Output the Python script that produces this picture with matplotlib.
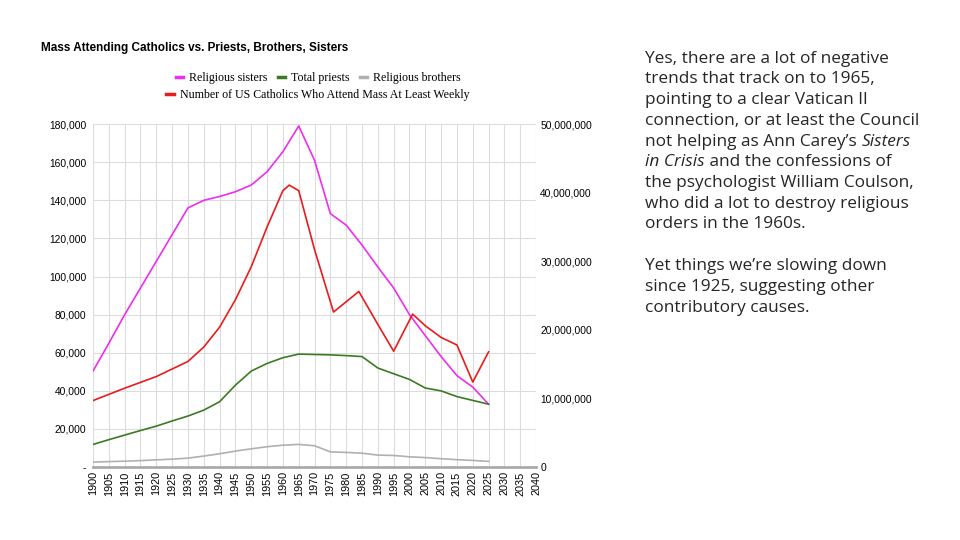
import matplotlib.pyplot as plt
from matplotlib.ticker import FuncFormatter

# values
years = list(range(1900, 2030, 5))
sisters = [50400, 65000, 80000, 94000, 108000, 122000, 136000, 140000, 142000, 144500,
           148000, 155000, 165500, 179000, 161000, 133000, 127000, 116500, 105000, 94000,
           80000, 69000, 58000, 48000, 42000, 33000]
priests = [11900, 14400, 16800, 19200, 21500, 24200, 26800, 29900, 34300, 43000,
           50400, 54400, 57400, 59300, 59100, 58900, 58500, 58000, 52000, 49000,
           46000, 41500, 40000, 37000, 35000, 33000]
brothers = [2600, 2900, 3100, 3400, 3800, 4200, 4700, 5800, 7000, 8400,
            9600, 10700, 11500, 11900, 11200, 8000, 7700, 7300, 6300, 6100,
            5400, 5000, 4400, 3900, 3500, 3000]

mass_years = [1900, 1910, 1920, 1930, 1935, 1940, 1945, 1950, 1955, 1960, 1962, 1965,
              1970, 1976, 1980, 1984, 1990, 1995, 2001, 2005, 2010, 2015, 2020, 2025]
mass_weekly = [9.7e6, 11.5e6, 13.2e6, 15.4e6, 17.5e6, 20.4e6, 24.4e6, 29.2e6, 35.0e6,
               40.3e6, 41.1e6, 40.3e6, 31.7e6, 22.6e6, 24.1e6, 25.6e6, 20.8e6, 16.9e6,
               22.3e6, 20.6e6, 18.9e6, 17.8e6, 12.4e6, 16.8e6]

labels = ['Religious sisters', 'Total priests', 'Religious brothers',
          'Number of US Catholics Who Attend Mass At Least Weekly']
colors = ['#ee2eee', '#3b7a23', '#b0b0b0', '#e81c1c']

fig = plt.figure(figsize=(9.6, 5.4), dpi=100)
ax = fig.add_axes([0.0969, 0.135, 0.4615, 0.6352])
ax2 = ax.twinx()

l1, = ax.plot(years, sisters, color=colors[0], lw=1.2)
l2, = ax.plot(years, priests, color=colors[1], lw=1.2)
l3, = ax.plot(years, brothers, color=colors[2], lw=1.2)
l4, = ax2.plot(mass_years, mass_weekly, color=colors[3], lw=1.2)

ax.set_xlim(1900, 2040)
ax.set_ylim(0, 180000)
ax2.set_ylim(0, 50000000)
ax.set_xticks(range(1900, 2045, 5))
ax.set_yticks(range(0, 200000, 20000))
ax2.set_yticks(range(0, 60000000, 10000000))
ax.yaxis.set_major_formatter(FuncFormatter(lambda v, p: '-' if v == 0 else f'{int(v):,}'))
ax2.yaxis.set_major_formatter(FuncFormatter(lambda v, p: f'{int(v):,}'))

ax.grid(True, color='#dcdcdc', lw=0.8)
ax.set_axisbelow(True)
for a in (ax, ax2):
    for s in a.spines.values():
        s.set_visible(False)
    a.tick_params(length=0, labelsize=7.4)
ax.spines['bottom'].set_visible(True)
ax.spines['bottom'].set_color('#aaaaaa')
ax.spines['bottom'].set_linewidth(2)
ax.tick_params(axis='x', rotation=90, pad=3, labelsize=7.8)
ax.tick_params(axis='y', pad=5)
ax2.tick_params(axis='y', pad=3)
for t in ax.get_xticklabels() + ax.get_yticklabels() + ax2.get_yticklabels():
    t.set_family('Liberation Sans')

fig.text(0.043, 0.911, 'Mass Attending Catholics vs. Priests, Brothers, Sisters',
         fontsize=8.5, fontweight='bold', family='Liberation Sans', va='center')

leg_font = {'family': 'Liberation Serif', 'size': 8.6}
fig.legend([l1, l2, l3], labels[:3], loc='center', bbox_to_anchor=(0.3315, 0.855),
           ncol=3, frameon=False, prop=leg_font, handlelength=0.6, handletextpad=0.5,
           columnspacing=0.9, borderpad=0)
fig.legend([l4], labels[3:], loc='center', bbox_to_anchor=(0.331, 0.824),
           frameon=False, prop=leg_font, handlelength=0.6, handletextpad=0.5,
           borderpad=0)
for lg in fig.legends:
    for h in lg.legend_handles:
        h.set_linewidth(2.5)

# side note
txt_font = dict(family='Open Sans', fontsize=12.4, color='#262626', va='center')
lines = [
    [('Yes, there are a lot of negative', 'normal')],
    [('trends that track on to 1965,', 'normal')],
    [('pointing to a clear Vatican II', 'normal')],
    [('connection, or at least the Council', 'normal')],
    [('not helping as Ann Carey\u2019s ', 'normal'), ('Sisters', 'italic')],
    [('in Crisis', 'italic'), (' and the confessions of', 'normal')],
    [('the psychologist William Coulson,', 'normal')],
    [('who did a lot to destroy religious', 'normal')],
    [('orders in the 1960s.', 'normal')],
    [],
    [('Yet things we\u2019re slowing down', 'normal')],
    [('since 1925, suggesting other', 'normal')],
    [('contributory causes.', 'normal')],
]
renderer = fig.canvas.get_renderer()
y_px = 58.5
for parts in lines:
    x_px = 645
    for s, style in parts:
        t = fig.text(x_px / 960, 1 - y_px / 540, s, style=style, **txt_font)
        bb = t.get_window_extent(renderer)
        x_px += bb.width
    y_px += 20.75

fig.savefig('out.png', dpi=100)
